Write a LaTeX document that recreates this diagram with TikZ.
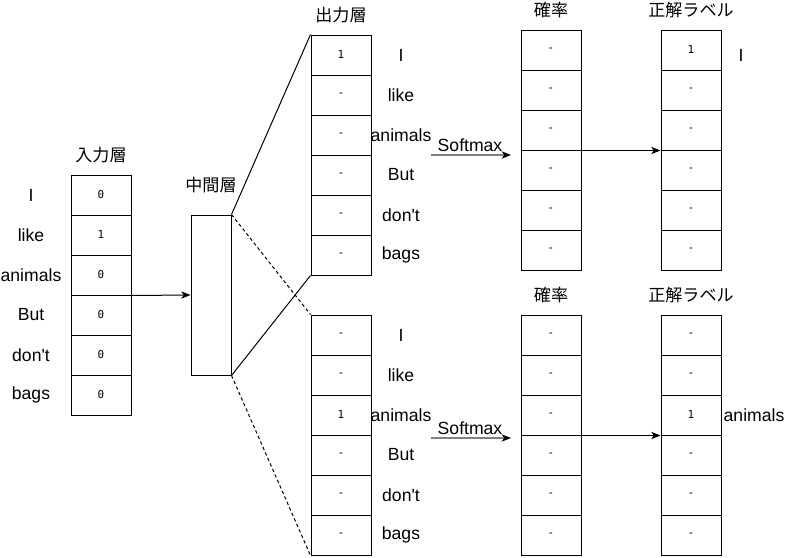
\documentclass[tikz,border=0pt]{standalone}
\usepackage{fontspec}
\newfontfamily\wordfont{Liberation Sans}
\newfontfamily\cjk{Noto Sans CJK JP}
\newfontfamily\cellfont{DejaVu Sans Mono}
\usetikzlibrary{arrows.meta}
\begin{document}
\begin{tikzpicture}[x=0.75pt,y=-0.75pt,
  cell/.style={draw,line width=0.75pt,minimum width=45pt,minimum height=30pt,inner sep=0pt,font=\cellfont\fontsize{8.2}{9}\selectfont},
  word/.style={font=\wordfont\fontsize{13.2}{15}\selectfont,inner sep=0pt},
  head/.style={font=\cjk\fontsize{12.8}{14}\selectfont,inner sep=0pt},
  arr/.style={line width=0.75pt,-{Stealth[length=7pt,width=5.5pt,inset=2pt]}},
  garr/.style={draw=black!50,line width=1.1pt,-{Stealth[length=7pt,width=5.5pt,inset=2pt,color=black]}},
  link/.style={line width=0.75pt},
  dlink/.style={line width=0.75pt,dash pattern=on 2.5pt off 2pt}]
\useasboundingbox (0,0) rectangle (785,557);
% input layer
\foreach \v [count=\i] in {0,1,0,0,0,0}
  \node[cell] (in\i) at (101,{155+40*\i}) {\v};
\foreach \w [count=\i] in {I,like,animals,But,don't,bags}
  \node[word] (inw\i) at (31,{155+40*\i}) {\w};
\node[head] (hin) at (101,155) {入力層};
% middle layer
\node[draw,line width=0.75pt,minimum width=30pt,minimum height=120pt,inner sep=0pt] (mid) at (211,295) {};
\node[head] (hmid) at (211,185) {中間層};
% output top
\foreach \v [count=\i] in {1,-,-,-,-,-}
  \node[cell] (ot\i) at (341,{15+40*\i}) {\v};
\foreach \w [count=\i] in {I,like,animals,But,don't,bags}
  \node[word] (otw\i) at (401,{15+40*\i}) {\w};
\node[head] (hot) at (341,15) {出力層};
% output bottom
\foreach \v [count=\i] in {-,-,1,-,-,-}
  \node[cell] (ob\i) at (341,{295+40*\i}) {\v};
\foreach \w [count=\i] in {I,like,animals,But,don't,bags}
  \node[word] (obw\i) at (401,{295+40*\i}) {\w};
% probability top
\foreach \i in {1,...,6}
  \node[cell] (pt\i) at (551,{10+40*\i}) {-};
\node[head] (hpt) at (551,10) {確率};
% label top
\foreach \v [count=\i] in {1,-,-,-,-,-}
  \node[cell] (lt\i) at (691,{10+40*\i}) {\v};
\node[head] (hlt) at (691,10) {正解ラベル};
\node[word] (ltw) at (741,55) {I};
% probability bottom
\foreach \i in {1,...,6}
  \node[cell] (pb\i) at (551,{295+40*\i}) {-};
\node[head] (hpb) at (551,295) {確率};
% label bottom
\foreach \v [count=\i] in {-,-,1,-,-,-}
  \node[cell] (lb\i) at (691,{295+40*\i}) {\v};
\node[head] (hlb) at (691,295) {正解ラベル};
\node[word] (lbw) at (754,415) {animals};
% connectors
\draw[arr] (in3.south east) -- (mid.west);
\draw[link] (mid.north east) -- (ot1.north west);
\draw[link] (mid.south east) -- (ot6.south west);
\draw[dlink] (mid.north east) -- (ob1.north west);
\draw[dlink] (mid.south east) -- (ob6.south west);
% softmax
\coordinate (s1a) at (431,155);
\coordinate (s1b) at (511,155);
\draw[garr] (s1a) -- (s1b);
\node[word] (sm1) at (470,145) {Softmax};
\coordinate (s2a) at (431,438);
\coordinate (s2b) at (511,438);
\draw[garr] (s2a) -- (s2b);
\node[word] (sm2) at (470,428) {Softmax};
\draw[arr] (pt3.south east) -- (lt3.south west);
\draw[arr] (pb3.south east) -- (lb3.south west);
\end{tikzpicture}
\end{document}
